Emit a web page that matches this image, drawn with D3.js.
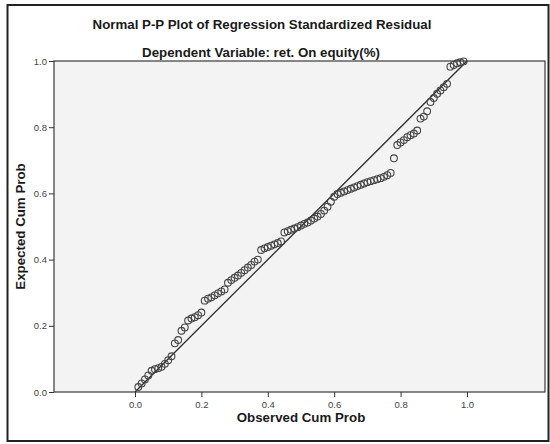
<!DOCTYPE html>
<html lang="en">
<head>
  <meta charset="UTF-8">
  <title>Normal P-P Plot</title>
  <script src="https://d3js.org/d3.v7.min.js"></script>
  <style>
    body { margin: 0; background: white; font-family: "Liberation Sans", Arial, sans-serif; }
    .axis path { display: none; }
    .axis line { stroke: #333; }
    .axis text { fill: #444; font-size: 9.5px; font-family: "Liberation Sans", Arial, sans-serif; }
    .ttl { font-weight: bold; font-size: 13.3px; fill: #1a1a1a; }
  </style>
</head>
<body>
  <div id="chart"></div>
  <script>
    // observed cum prob (x) and expected cum prob (y)
    const observed = [0.01,0.02,0.03,0.04,0.05,0.06,0.07,0.08,0.09,0.10,
      0.11,0.12,0.13,0.14,0.15,0.16,0.17,0.18,0.19,0.20,
      0.21,0.22,0.23,0.24,0.25,0.26,0.27,0.28,0.29,0.30,
      0.31,0.32,0.33,0.34,0.35,0.36,0.37,0.38,0.39,0.40,
      0.41,0.42,0.43,0.44,0.45,0.46,0.47,0.48,0.49,0.50,
      0.51,0.52,0.53,0.54,0.55,0.56,0.57,0.58,0.59,0.60,
      0.61,0.62,0.63,0.64,0.65,0.66,0.67,0.68,0.69,0.70,
      0.71,0.72,0.73,0.74,0.75,0.76,0.77,0.78,0.79,0.80,
      0.81,0.82,0.83,0.84,0.85,0.86,0.87,0.88,0.89,0.90,
      0.91,0.92,0.93,0.94,0.95,0.96,0.97,0.98,0.99];
    const expected = [0.015,0.026,0.038,0.050,0.064,0.069,0.072,0.076,0.085,0.096,
      0.108,0.147,0.157,0.185,0.195,0.216,0.222,0.226,0.232,0.240,
      0.276,0.282,0.286,0.292,0.298,0.304,0.310,0.330,0.338,0.345,
      0.352,0.360,0.368,0.376,0.384,0.394,0.400,0.429,0.434,0.438,
      0.442,0.446,0.450,0.455,0.482,0.486,0.490,0.494,0.498,0.503,
      0.508,0.512,0.518,0.524,0.530,0.538,0.548,0.560,0.575,0.590,
      0.598,0.602,0.606,0.610,0.614,0.618,0.622,0.626,0.630,0.634,
      0.637,0.640,0.643,0.646,0.650,0.655,0.662,0.706,0.746,0.754,
      0.761,0.770,0.776,0.781,0.790,0.826,0.832,0.848,0.876,0.888,
      0.901,0.911,0.921,0.931,0.983,0.988,0.993,0.996,0.999];
    const tickLabels = [0.0, 0.2, 0.4, 0.6, 0.8, 1.0];

    const width = 550, height = 444;
    const plot = { left: 54, right: 545, top: 61, bottom: 392 };

    const svg = d3.select("#chart").append("svg")
      .attr("width", width)
      .attr("height", height);

    // outer frame
    svg.append("rect")
      .attr("x", 7.5).attr("y", 5)
      .attr("width", 541).attr("height", 436)
      .attr("fill", "white")
      .attr("stroke", "#222")
      .attr("stroke-width", 2);

    const x = d3.scaleLinear().domain([-0.244, 1.235]).range([plot.left, plot.right]);
    const y = d3.scaleLinear().domain([0, 1]).range([plot.bottom, plot.top]);

    svg.append("rect")
      .attr("x", plot.left).attr("y", plot.top)
      .attr("width", plot.right - plot.left)
      .attr("height", plot.bottom - plot.top)
      .attr("fill", "#f3f3f3")
      .attr("stroke", "#3a3a3a")
      .attr("stroke-width", 1.2);

    svg.append("g")
      .attr("class", "axis")
      .attr("transform", `translate(0,${plot.bottom})`)
      .call(d3.axisBottom(x).tickValues(tickLabels).tickFormat(d3.format(".1f")).tickSize(5).tickPadding(4));

    svg.append("g")
      .attr("class", "axis")
      .attr("transform", `translate(${plot.left},0)`)
      .call(d3.axisLeft(y).tickValues(tickLabels).tickFormat(d3.format(".1f")).tickSize(5).tickPadding(2));

    // reference diagonal
    svg.append("line")
      .attr("x1", x(0)).attr("y1", y(0))
      .attr("x2", x(1)).attr("y2", y(1))
      .attr("stroke", "#2a2a2a")
      .attr("stroke-width", 1.3);

    svg.append("g").selectAll("circle")
      .data(observed.map((o, i) => [o, expected[i]]))
      .join("circle")
      .attr("cx", d => x(d[0]))
      .attr("cy", d => y(d[1]))
      .attr("r", 3.4)
      .attr("fill", "none")
      .attr("stroke", "#444")
      .attr("stroke-width", 1.1);

    svg.append("text").attr("class", "ttl")
      .attr("x", 262).attr("y", 29)
      .attr("text-anchor", "middle")
      .text("Normal P-P Plot of Regression Standardized Residual");

    svg.append("text").attr("class", "ttl")
      .attr("x", 261).attr("y", 57)
      .attr("text-anchor", "middle")
      .text("Dependent Variable: ret. On equity(%)");

    svg.append("text").attr("class", "ttl")
      .attr("x", x(0.5)).attr("y", 422)
      .attr("text-anchor", "middle")
      .text("Observed Cum Prob");

    svg.append("text").attr("class", "ttl")
      .attr("transform", `translate(25,${(plot.top + plot.bottom) / 2}) rotate(-90)`)
      .attr("text-anchor", "middle")
      .text("Expected Cum Prob");
  </script>
</body>
</html>
